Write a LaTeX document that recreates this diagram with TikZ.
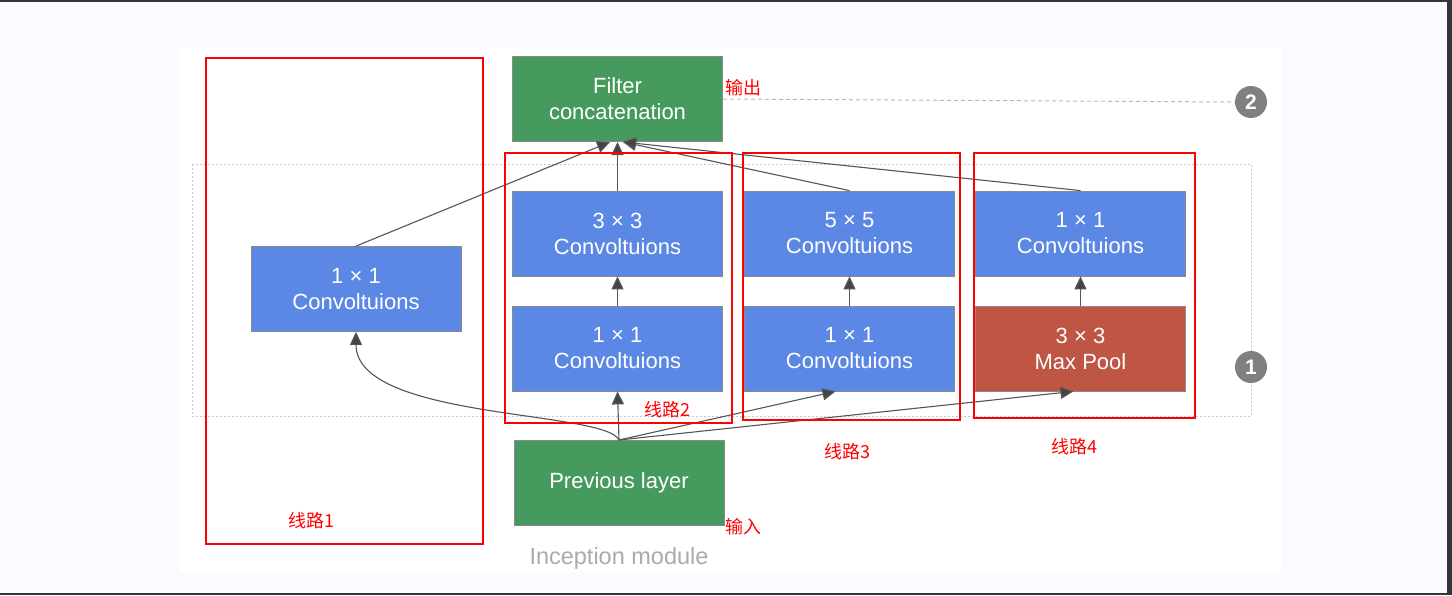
\documentclass[tikz,border=0pt]{standalone}
\usepackage{fontspec}
\setmainfont{Liberation Sans}
\newfontfamily\cjk{Noto Sans CJK SC}
\usetikzlibrary{arrows.meta}
\definecolor{bgc}{HTML}{FAFBFE}
\definecolor{framec}{HTML}{33373B}
\definecolor{convblue}{HTML}{5B87E5}
\definecolor{layergreen}{HTML}{469A5E}
\definecolor{poolred}{HTML}{BE5545}
\definecolor{edgegray}{HTML}{8A8A8A}
\definecolor{linec}{HTML}{555555}
\definecolor{headc}{HTML}{444444}
\definecolor{circc}{HTML}{808080}
\definecolor{dashc}{HTML}{C8C8C8}
\tikzset{
  layerbox/.style={draw=edgegray, line width=0.8pt, minimum width=210pt, minimum height=85pt,
    inner sep=0pt, text=white, align=center, font=\fontsize{22}{26}\selectfont},
  conv/.style={layerbox, fill=convblue},
  green/.style={layerbox, fill=layergreen},
  pool/.style={layerbox, fill=poolred},
  link/.style={draw=linec, line width=1.1pt, -{Triangle[length=13pt,width=12pt,fill=headc]}},
  redbox/.style={draw=red, line width=2pt},
  redlabel/.style={text=red, font=\cjk\fontsize{18}{22}\selectfont, inner sep=0pt},
  badge/.style={circle, fill=circc, minimum size=32pt, inner sep=0pt, text=white,
    font=\bfseries\fontsize{21}{21}\selectfont},
}
\begin{document}
\begin{tikzpicture}[x=1pt,y=-1pt]
\useasboundingbox (0,0) rectangle (1452,595);
\fill[bgc] (0,0) rectangle (1452,595);
\fill[framec] (0,0) rectangle (1452,1.5);
\fill[framec] (1447,0) rectangle (1452,595);
\fill[framec] (0,593) rectangle (1452,595);
\fill[white] (180,47) rectangle (1282,572);
% dashed module frame
\draw[dashc, line width=1pt, dash pattern=on 2pt off 2pt] (192,164) rectangle (1251,416);
% badges
\node[badge] (b2) at (1251,102) {2};
\node[badge] (b1) at (1251,367) {1};
% nodes
\node[green] (fc) at (617.5,99) {Filter\\concatenation};
\node[conv] (c1) at (356,289) {1 × 1\\Convoltuions};
\node[conv] (c2a) at (617.5,348.5) {1 × 1\\Convoltuions};
\node[conv] (c2b) at (617.5,233.5) {3 × 3\\Convoltuions};
\node[conv] (c3a) at (849.5,348.5) {1 × 1\\Convoltuions};
\node[conv] (c3b) at (849.5,233.5) {5 × 5\\Convoltuions};
\node[pool] (p4) at (1080.5,348.5) {3 × 3\\Max Pool};
\node[conv] (c4b) at (1080.5,233.5) {1 × 1\\Convoltuions};
\node[green] (prev) at (619,482.5) {Previous layer};
\node[text=black!33, font=\fontsize{23.5}{28}\selectfont, inner sep=0pt] (cap) at (619,558) {Inception module};
% coordinates
\coordinate (fcA) at (610,142);
\coordinate (fcB) at (617.5,142);
\coordinate (fcC) at (623,142);
\coordinate (src) at (619,440);
% output dashed line
\node[redlabel, anchor=west] (out) at (725,88) {输出};
\coordinate (outl) at (723,99);
\draw[dashc!80!gray, line width=1pt, dash pattern=on 4pt off 3pt] (outl) -- (b2.west);
\node[redlabel, anchor=west] (in) at (725,527) {输入};
% connectors to concat
\draw[link] (c1.north) -- (fcA);
\draw[link] (c2b.north) -- (fcB);
\draw[link] (c3b.north) -- (fcC);
\draw[link] (c4b.north) -- (fcC);
% inner arrows
\draw[link] (c2a.north) -- (c2b.south);
\draw[link] (c3a.north) -- (c3b.south);
\draw[link] (p4.north) -- (c4b.south);
% from previous layer
\draw[link] (src) -- (c2a.south);
\draw[link] (src) -- ([xshift=-14pt]c3a.south);
\draw[link] (src) -- ([xshift=-7pt]p4.south);
\draw[link] (src) .. controls (605,410) and (356,420) .. (c1.south);
% red boxes
\draw[redbox] (206,58) rectangle (483,544);
\draw[redbox] (505,153) rectangle (732,423);
\draw[redbox] (743,153) rectangle (960,420);
\draw[redbox] (974,153) rectangle (1195,418);
\node[redlabel] (l1) at (311,521) {线路1};
\node[redlabel] (l2) at (667,410) {线路2};
\node[redlabel] (l3) at (847,452) {线路3};
\node[redlabel] (l4) at (1074,447) {线路4};
\end{tikzpicture}
\end{document}
